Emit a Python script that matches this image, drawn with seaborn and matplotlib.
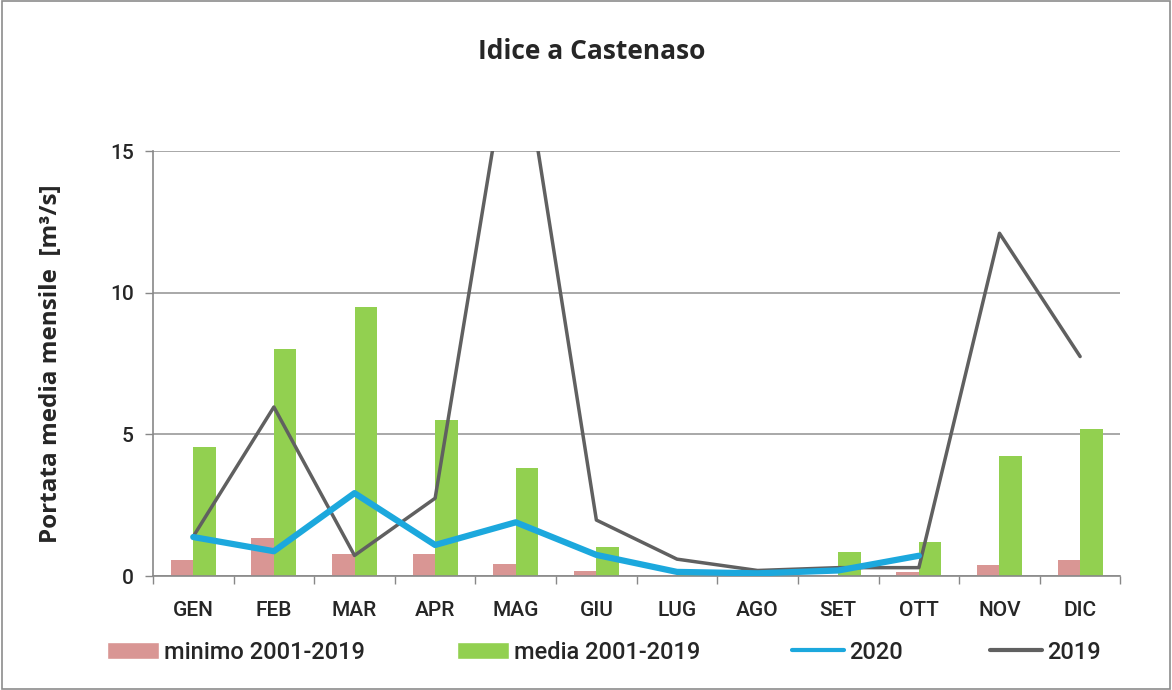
import numpy as np
import pandas as pd
import matplotlib
matplotlib.use("Agg")
import matplotlib.pyplot as plt
import seaborn as sns
from matplotlib.patches import Patch, Rectangle
from matplotlib.lines import Line2D

months = ["GEN", "FEB", "MAR", "APR", "MAG", "GIU", "LUG", "AGO", "SET", "OTT", "NOV", "DIC"]
minimo = [0.57, 1.34, 0.78, 0.78, 0.42, 0.18, 0.05, 0.05, 0.05, 0.15, 0.38, 0.57]
media = [4.55, 8.0, 9.5, 5.5, 3.8, 1.03, 0.08, 0.1, 0.85, 1.2, 4.23, 5.2]
y2020 = [1.38, 0.88, 2.93, 1.1, 1.9, 0.75, 0.15, 0.1, 0.2, 0.72, np.nan, np.nan]
y2019 = [1.4, 5.97, 0.73, 2.75, 20.0, 1.98, 0.6, 0.2, 0.3, 0.3, 12.1, 7.75]
yticks = [0, 5, 10, 15]
legend_labels = ["minimo 2001-2019", "media 2001-2019", "2020", "2019"]

c_min = "#D99694"
c_med = "#92D050"
c_2020 = "#1CA8DD"
c_2019 = "#606060"

sns.set_theme(style="white")
tickfont = ["Roboto", "DejaVu Sans"]
plt.rcParams["font.family"] = ["Open Sans", "DejaVu Sans"]

fig = plt.figure(figsize=(11.72, 6.9), dpi=100)
ax = fig.add_axes([0.1305, 0.165, 0.8255, 0.616])

df = pd.DataFrame({
    "mese": months * 2,
    "val": minimo + media,
    "serie": [legend_labels[0]] * 12 + [legend_labels[1]] * 12,
})
sns.barplot(data=df, x="mese", y="val", hue="serie", order=months,
            palette=[c_min, c_med], width=0.56, gap=0, saturation=1,
            ax=ax, legend=False, linewidth=0, zorder=2)

xs = np.arange(len(months))
sns.lineplot(x=xs, y=y2020, color=c_2020, linewidth=4.5, ax=ax, zorder=4)
sns.lineplot(x=xs, y=y2019, color=c_2019, linewidth=2.5, ax=ax, zorder=3)

ax.set_ylim(0, 15)
ax.set_xlim(-0.5, 11.5)
ax.set_yticks(yticks)
ax.set_yticklabels([str(t) for t in yticks], fontsize=15, family=tickfont, fontweight="medium")
ax.set_xticks(xs)
ax.set_xticklabels(months, fontsize=15, family=tickfont, fontweight="medium")
ax.set_xticks(np.arange(-0.5, 12, 1), minor=True)
ax.tick_params(axis="x", which="major", length=0, pad=18)
ax.tick_params(axis="x", which="minor", length=6, width=1, color="#888888", bottom=True, direction="out")
ax.tick_params(axis="y", which="major", length=6, width=1, color="#888888", left=True, direction="out", pad=8)
ax.set_xlabel("")
ax.set_ylabel("Portata media mensile  [m³/s]", fontsize=17.5, fontweight="bold", labelpad=34)
ax.yaxis.grid(True, color="#999999", linewidth=1.2, zorder=0)
ax.set_axisbelow(True)
for s in ["top", "right"]:
    ax.spines[s].set_visible(False)
for s in ["left", "bottom"]:
    ax.spines[s].set_color("#888888")
    ax.spines[s].set_linewidth(1.2)

fig.text(0.505, 0.925, "Idice a Castenaso", ha="center", va="center",
         fontsize=19, fontweight="bold")

handles = [Patch(facecolor=c_min), Patch(facecolor=c_med),
           Line2D([], [], color=c_2020, linewidth=3),
           Line2D([], [], color=c_2019, linewidth=3)]
xpos = [107, 457, 792, 990]
for h, lab, xp in zip(handles, legend_labels, xpos):
    fig.legend([h], [lab], loc="center left", bbox_to_anchor=(xp / 1172, 0.055),
               frameon=False, prop={"family": tickfont, "size": 17, "weight": "medium"},
               handlelength=2.2, handleheight=0.75, handletextpad=0.2,
               borderpad=0, borderaxespad=0)

fig.patches.append(Rectangle((0.002, 0.002), 0.996, 0.996, transform=fig.transFigure,
                             fill=False, edgecolor="#8c8c8c", linewidth=1.2))

fig.savefig("out.png", dpi=100)
